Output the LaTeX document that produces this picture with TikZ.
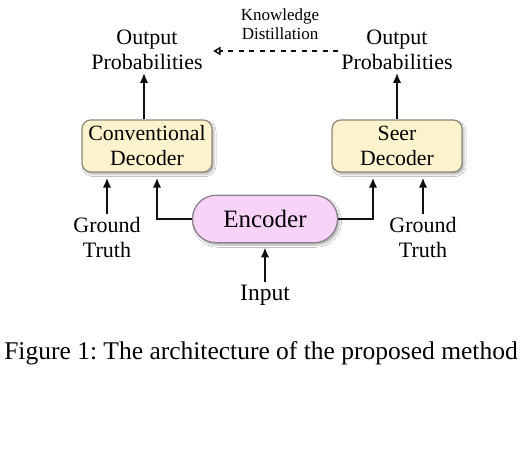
\documentclass[tikz,border=0pt]{standalone}
\usepackage{fontspec}
\setmainfont{Liberation Serif}
\usepackage{xcolor}
\usepackage{tikz}
\usetikzlibrary{shadows.blur,positioning,arrows.meta,calc}
\definecolor{ink}{HTML}{111111}
\definecolor{decFill}{HTML}{FCF3CC}
\definecolor{decLine}{HTML}{8C877C}
\definecolor{encFill}{HTML}{F8D3F8}
\definecolor{encLine}{HTML}{8A7E8A}
\frenchspacing

\begin{document}
\begin{tikzpicture}[x=0.4pt,y=-0.4pt,
    decbox/.style={draw=decLine, line width=0.5pt, fill=decFill, rounded corners=3.5pt,
      minimum width=52pt, minimum height=20.8pt, inner sep=1pt, align=center,
      font=\fontsize{8.7}{10}\selectfont,
      blur shadow={shadow blur steps=4,shadow blur radius=0.8pt,shadow opacity=30,
        shadow xshift=0.8pt,shadow yshift=-1pt}},
    encbox/.style={draw=encLine, line width=0.5pt, fill=encFill, rounded corners=9.4pt,
      minimum width=58pt, minimum height=19pt, inner sep=1pt,
      font=\fontsize{10}{12}\selectfont,
      blur shadow={shadow blur steps=4,shadow blur radius=0.8pt,shadow opacity=30,
        shadow xshift=0.8pt,shadow yshift=-1pt}},
    lbl/.style={align=center, inner sep=1pt, font=\fontsize{8.8}{10}\selectfont},
    arr/.style={-{Latex[length=4pt,width=3.4pt]}, line width=0.8pt, color=ink}]
  \useasboundingbox[fill=white] (0,0) rectangle (531,467);

  % boxes
  \node[decbox] (conv) at (147,146) {Conventional\\Decoder};
  \node[decbox] (seer) at (397,146) {Seer\\Decoder};
  \node[encbox] (enc) at (265,219) {Encoder};

  % labels
  \node[lbl] (outL) at (147,50) {Output\\Probabilities};
  \node[lbl] (outR) at (397,50) {Output\\Probabilities};
  \node[lbl, font=\fontsize{6.8}{7.8}\selectfont] (kd) at (280,24) {Knowledge\\Distillation};
  \node[lbl] (gtL) at (107,237) {Ground\\Truth};
  \node[lbl] (gtR) at (423,237) {Ground\\Truth};
  \node[lbl, font=\fontsize{9.4}{11}\selectfont] (inp) at (265,295) {Input};
  \node[font=\fontsize{10.2}{12}\selectfont] (cap) at (261,353)
    {Figure 1: The architecture of the proposed method};

  % connectors
  \draw[arr] ([xshift=-1.2pt]conv.north) -- ([xshift=-1.2pt]conv.north |- outL.south);
  \draw[arr] (seer.north) -- (seer.north |- outR.south);
  \draw[arr, shorten >=2pt] (gtL.north) -- (gtL.north |- conv.south);
  \draw[arr, shorten >=2pt] (gtR.north) -- (gtR.north |- seer.south);
  \draw[arr, shorten >=2pt] (enc.west) -| ([xshift=4pt]conv.south);
  \draw[arr, shorten >=2pt] (enc.east) -| ([xshift=-9.6pt]seer.south);
  \draw[arr, shorten >=1.6pt] (inp.north) -- (enc.south);
  \draw[-{Triangle[open,length=3pt,width=3.4pt]}, line width=0.6pt,
        dash pattern=on 2pt off 2.2pt, color=ink]
    ([yshift=-0.4pt]outR.west) -- ([yshift=-0.4pt,xshift=3pt]outL.east);
\end{tikzpicture}
\end{document}
